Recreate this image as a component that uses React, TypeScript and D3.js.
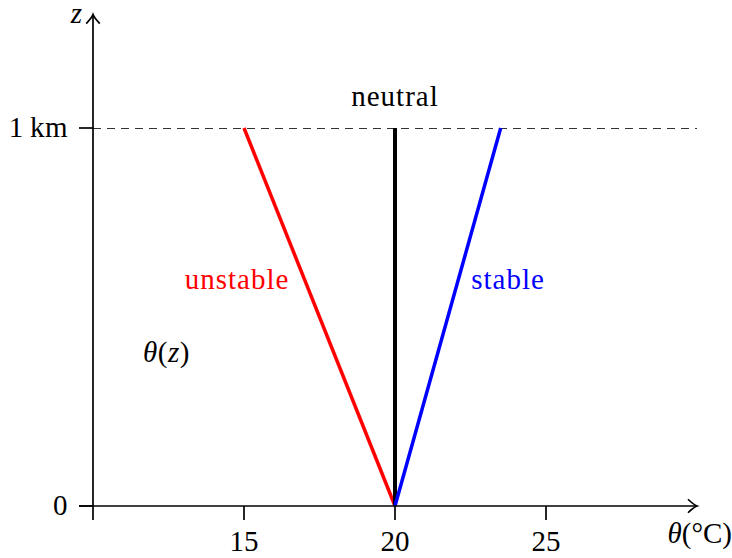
import React from "react";
import * as d3 from "d3";

// Potential temperature profiles in the lowest kilometre
const profiles = ["unstable", "neutral", "stable"];
const surfaceTheta = [20, 20, 20];
const topTheta = [15, 20, 23.5];
const profileColors = ["#ff0000", "#000000", "#0000ff"];
const profileWidths = [3.5, 4, 3.5];

const xTicks = [15, 20, 25];
const yTicks = [0, 1];
const yTickLabels = ["0", "1\u2009km"];

const W = 732;
const H = 558;
const FONT = "'Liberation Serif', 'DejaVu Serif', serif";

export default function App() {
  const x = d3.scaleLinear().domain([10, 30]).range([93, 697]);
  const y = d3.scaleLinear().domain([0, 1]).range([506, 128]);
  const line = d3
    .line<[number, number]>()
    .x((d) => x(d[0]))
    .y((d) => y(d[1]));

  const x0 = x(10);
  const y0 = y(0);
  const xEnd = x(30);
  const yEnd = y(1.3);
  const tick = 14;
  const ah = 9;

  return (
    <svg
      width={W}
      height={H}
      style={{ position: "absolute", left: 0, top: 0, background: "#fff" }}
      fontFamily={FONT}
    >
      {/* reference height */}
      <path
        d={line([
          [10, 1],
          [30, 1],
        ])!}
        stroke="#333"
        strokeWidth={1}
        strokeDasharray="8,6"
        shapeRendering="crispEdges"
        fill="none"
      />

      {/* profiles */}
      {profiles.map((p, i) => (
        <path
          key={p}
          d={line([
            [surfaceTheta[i], 0],
            [topTheta[i], 1],
          ])!}
          stroke={profileColors[i]}
          strokeWidth={profileWidths[i]}
          fill="none"
        />
      ))}

      {/* axes */}
      <g stroke="#000" strokeWidth={1.7} fill="none">
        <line x1={x0 - tick} y1={y0} x2={xEnd} y2={y0} />
        <line x1={x0} y1={y0 + tick} x2={x0} y2={yEnd} />
        <path d={`M${xEnd - ah},${y0 - ah * 0.75} Q${xEnd - 3},${y0 - 1} ${xEnd},${y0} Q${xEnd - 3},${y0 + 1} ${xEnd - ah},${y0 + ah * 0.75}`} />
        <path d={`M${x0 - ah * 0.75},${yEnd + ah} Q${x0 - 1},${yEnd + 3} ${x0},${yEnd} Q${x0 + 1},${yEnd + 3} ${x0 + ah * 0.75},${yEnd + ah}`} />
        {xTicks.map((t) => (
          <line key={t} x1={x(t)} y1={y0} x2={x(t)} y2={y0 + tick} />
        ))}
        {yTicks.map((t) => (
          <line key={t} x1={x0 - tick} y1={y(t)} x2={x0} y2={y(t)} />
        ))}
      </g>

      <g fontSize={29} fill="#000">
        {xTicks.map((t) => (
          <text key={t} x={x(t)} y={y0 + 45} textAnchor="middle">
            {t}
          </text>
        ))}
        {yTicks.map((t, i) => (
          <text key={t} x={x0 - 25} y={y(t) + 9} textAnchor="end" letterSpacing={0.5}>
            {yTickLabels[i]}
          </text>
        ))}
        <text x={82} y={23} textAnchor="end" fontStyle="italic">
          z
        </text>
        <text x={732} y={y0 + 37} textAnchor="end">
          <tspan fontStyle="italic">θ</tspan>(°C)
        </text>
        <text x={143} y={362} letterSpacing={0.5}>
          <tspan fontStyle="italic">θ</tspan>(<tspan fontStyle="italic">z</tspan>)
        </text>
        <g letterSpacing={1}>
          <text x={x(20)} y={106} textAnchor="middle">
            neutral
          </text>
          <text x={237} y={289} textAnchor="middle" fill={profileColors[0]}>
            unstable
          </text>
          <text x={508} y={289} textAnchor="middle" fill={profileColors[2]}>
            stable
          </text>
        </g>
      </g>
    </svg>
  );
}
